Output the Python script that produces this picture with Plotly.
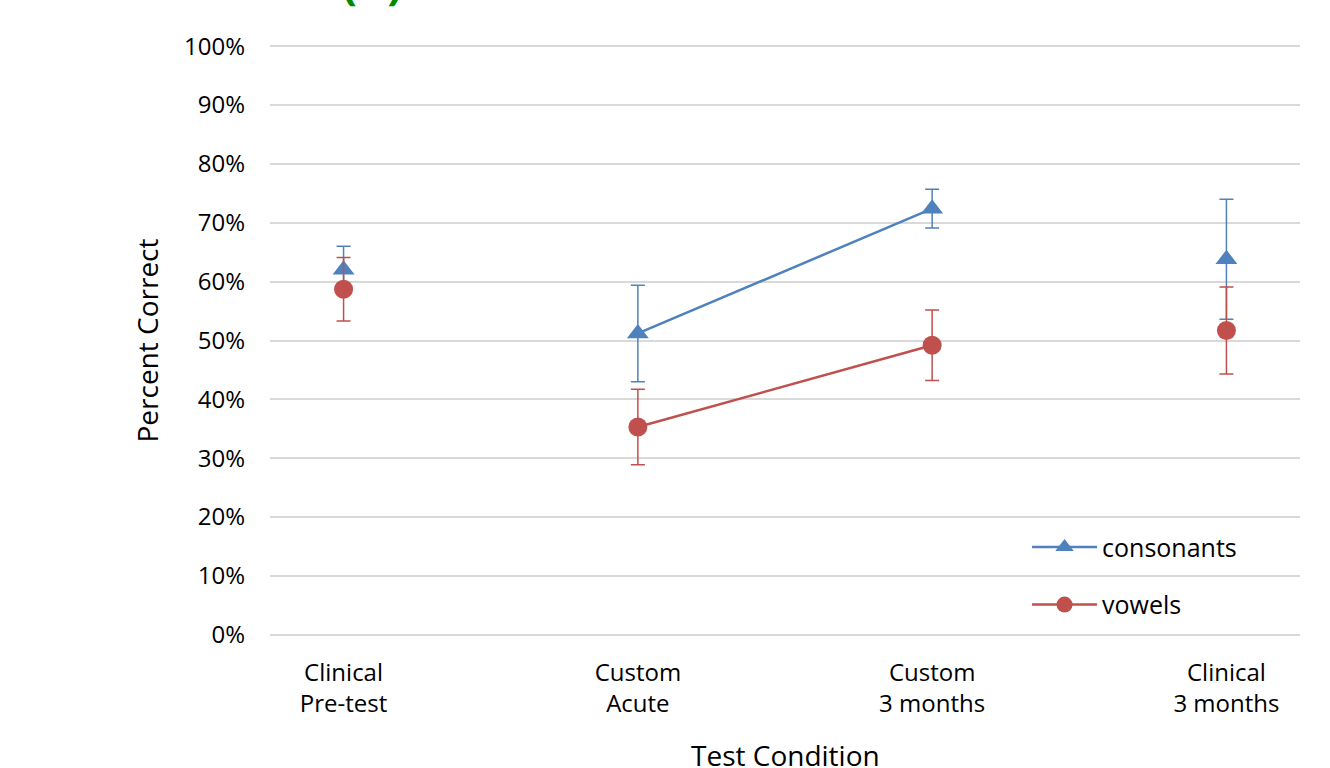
import plotly.graph_objects as go

categories = ["Clinical<br>Pre-test", "Custom<br>Acute", "Custom<br>3 months", "Clinical<br>3 months"]
consonants = [62.0, 51.2, 72.4, 63.8]
consonants_err = [4.0, 8.2, 3.3, 10.2]
vowels = [58.7, 35.3, 49.2, 51.7]
vowels_err = [5.4, 6.4, 6.0, 7.4]
y_ticks = [0, 10, 20, 30, 40, 50, 60, 70, 80, 90, 100]
y_tick_labels = ["0%", "10%", "20%", "30%", "40%", "50%", "60%", "70%", "80%", "90%", "100%"]

BLUE = "#4f81bd"
RED = "#c0504d"
FONT = "Open Sans"

fig = go.Figure()

def add_series(name, vals, errs, color, symbol, group):
    custom_idx = [1, 2]
    clinical_idx = [0, 3]
    fig.add_trace(go.Scatter(
        x=[categories[i] for i in custom_idx],
        y=[vals[i] for i in custom_idx],
        error_y=dict(type="data", array=[errs[i] for i in custom_idx], color=color, thickness=1.5, width=7),
        mode="lines+markers", name=name, legendgroup=group,
        line=dict(color=color, width=2.5),
        marker=dict(symbol=symbol, size=19, color=color),
    ))
    fig.add_trace(go.Scatter(
        x=[categories[i] for i in clinical_idx],
        y=[vals[i] for i in clinical_idx],
        error_y=dict(type="data", array=[errs[i] for i in clinical_idx], color=color, thickness=1.5, width=7),
        mode="markers", name=name, legendgroup=group, showlegend=False,
        marker=dict(symbol=symbol, size=19, color=color),
    ))

add_series("consonants", consonants, consonants_err, BLUE, "triangle-up", "c")
add_series("vowels", vowels, vowels_err, RED, "circle", "v")

fig.update_layout(
    width=1330, height=768,
    margin=dict(l=270, r=30, t=45, b=132, autoexpand=False),
    plot_bgcolor="white", paper_bgcolor="white",
    font=dict(family=FONT, size=24, color="black"),
    legend=dict(x=0.735, y=0.189, xanchor="left", yanchor="top",
                font=dict(size=25), traceorder="grouped", tracegroupgap=22,
                itemwidth=65, bgcolor="rgba(0,0,0,0)"),
    annotations=[
        dict(text="<b>(A)</b>", xref="paper", yref="paper", x=0.099, y=1.052,
             xanchor="center", yanchor="bottom", showarrow=False,
             font=dict(family=FONT, size=44, color="#008a00")),
        dict(text="Test Condition", xref="paper", yref="paper", x=0.5, y=-0.202,
             xanchor="center", yanchor="middle", showarrow=False,
             font=dict(family=FONT, size=28, color="black")),
    ],
)
fig.update_xaxes(type="category", categoryorder="array", categoryarray=categories,
                 range=[-0.25, 3.25], showgrid=False, showline=False, ticks="",
                 ticklabelstandoff=20, automargin=True)
fig.update_yaxes(range=[-0.2, 100.2], tickvals=y_ticks, ticktext=y_tick_labels, showgrid=True,
                 gridcolor="#d9d9d9", gridwidth=2, zeroline=False, showline=False,
                 ticks="", ticklabelstandoff=24, automargin=True,
                 title=dict(text="Percent Correct", font=dict(size=28), standoff=17))

fig.write_html("out.html")
